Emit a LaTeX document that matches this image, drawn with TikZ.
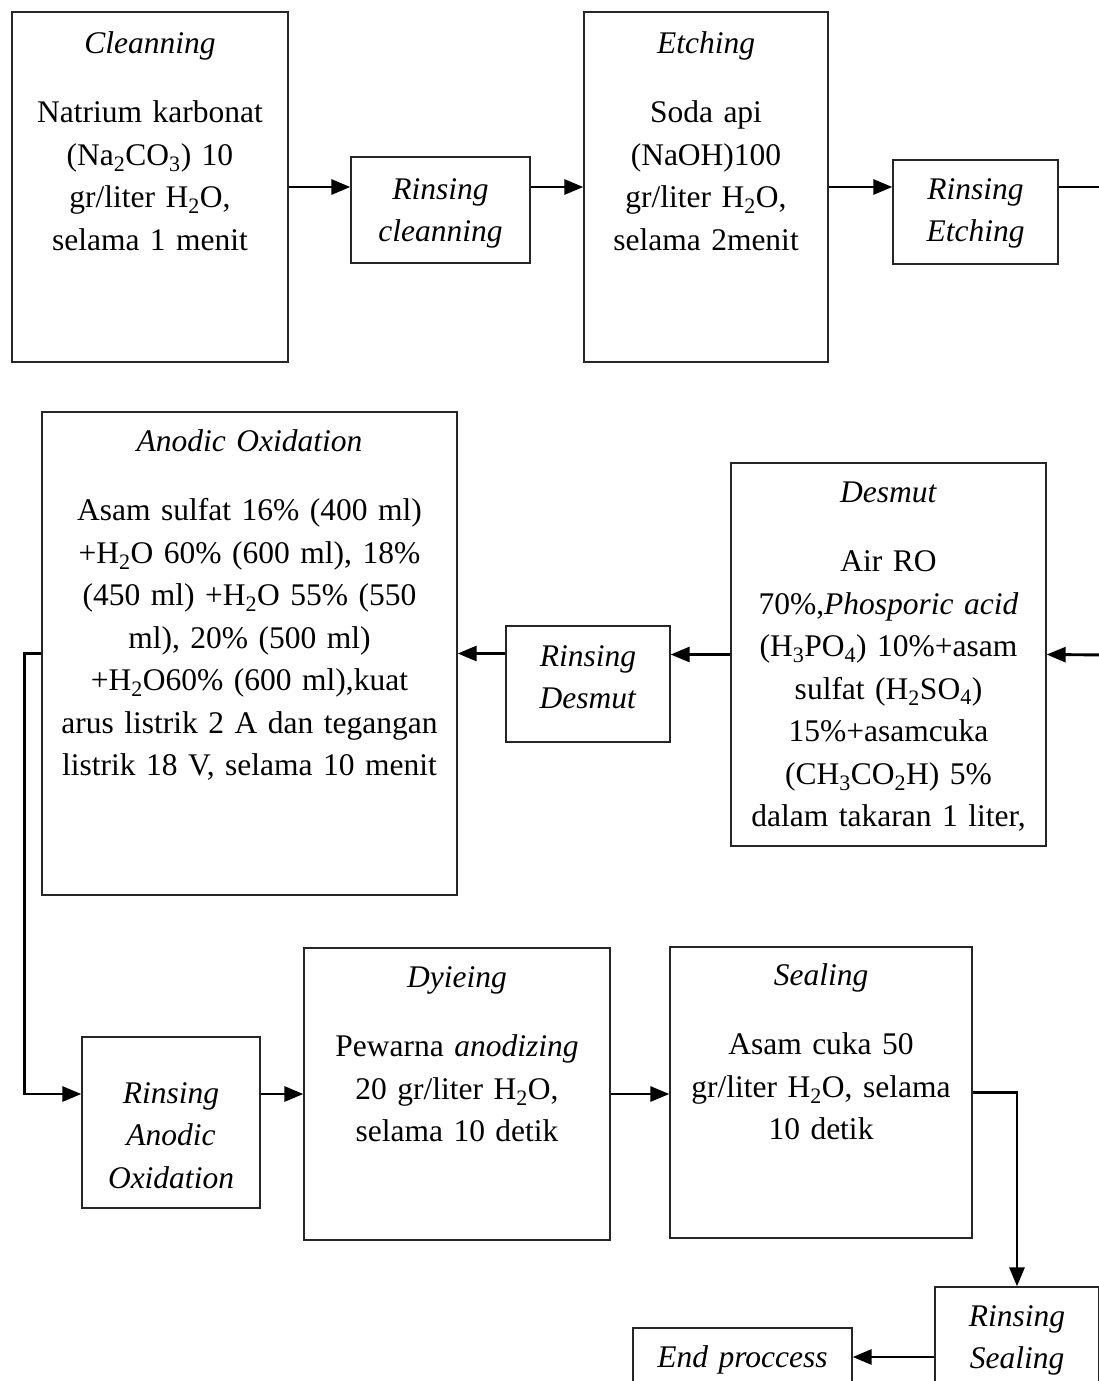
\documentclass[tikz,border=0pt]{standalone}
\usepackage{fontspec}
\setmainfont{Liberation Serif}
\usetikzlibrary{arrows.meta}

\tikzset{
  stage/.style={draw=black!85, line width=1.3pt, inner sep=0pt},
  boxtext/.style={anchor=base, align=center, inner sep=0pt,
    font=\fontsize{31.5}{42.5}\selectfont},
  flow/.style={line width=2.9pt, -{Triangle[length=19pt,width=15pt]}},
  plainflow/.style={line width=2.9pt}
}

\begin{document}
\begin{tikzpicture}[x=1pt,y=-1pt]
    \useasboundingbox (0,0) rectangle (1099,1381);
    \clip (0,0) rectangle (1099,1381);

    % Row 1: cleanning and etching
    \node[stage, minimum width=276, minimum height=350] (clean) at (150,187) {};
    \node[boxtext, text width=270] (cleantxt) at (150,53)
        {\textit{Cleanning}\\[27pt]
         Natrium karbonat\\
         (Na\textsubscript{2}CO\textsubscript{3}) 10\\
         gr/liter H\textsubscript{2}O,\\
         selama 1 menit};

    \node[stage, minimum width=179, minimum height=106] (rclean) at (440.5,210) {};
    \node[boxtext, text width=175] (rcleantxt) at (440.5,199)
        {\textit{Rinsing}\\ \textit{cleanning}};

    \node[stage, minimum width=244, minimum height=350] (etch) at (706,187) {};
    \node[boxtext, text width=240] (etchtxt) at (706,53)
        {\textit{Etching}\\[27pt]
         Soda api\\
         (NaOH)100\\
         gr/liter H\textsubscript{2}O,\\
         selama 2menit};

    \node[stage, minimum width=165, minimum height=104] (retch) at (975.5,212) {};
    \node[boxtext, text width=160] (retchtxt) at (975.5,199)
        {\textit{Rinsing}\\ \textit{Etching}};

    \coordinate (out1) at (1110,187);

    % Row 2: desmut and anodic oxidation
    \node[stage, minimum width=415, minimum height=483] (anodic) at (249.5,653.5) {};
    \node[boxtext, text width=410] (anodictxt) at (249.5,451)
        {\textit{Anodic Oxidation}\\[27pt]
         Asam sulfat 16\% (400 ml)\\
         +H\textsubscript{2}O 60\% (600 ml), 18\%\\
         (450 ml) +H\textsubscript{2}O 55\% (550\\
         ml), 20\% (500 ml)\\
         +H\textsubscript{2}O60\% (600 ml),kuat\\
         arus listrik 2 A dan tegangan\\
         listrik 18 V, selama 10 menit};

    \node[stage, minimum width=164, minimum height=116] (rdesmut) at (588,684) {};
    \node[boxtext, text width=160] (rdesmuttxt) at (588,666)
        {\textit{Rinsing}\\ \textit{Desmut}};

    \node[stage, minimum width=315, minimum height=383] (desmut) at (888.5,654.5) {};
    \node[boxtext, text width=310] (desmuttxt) at (888.5,502)
        {\textit{Desmut}\\[27pt]
         Air RO\\
         70\%,\textit{Phosporic acid}\\
         (H\textsubscript{3}PO\textsubscript{4}) 10\%+asam\\
         sulfat (H\textsubscript{2}SO\textsubscript{4})\\
         15\%+asamcuka\\
         (CH\textsubscript{3}CO\textsubscript{2}H) 5\%\\
         dalam takaran 1 liter,};

    \coordinate (in2) at (1110,655);

    % Row 3: rinsing, dyieing, sealing
    \node[stage, minimum width=178, minimum height=171] (ranodic) at (171,1122.5) {};
    \node[boxtext, text width=174] (ranodictxt) at (171,1103)
        {\textit{Rinsing}\\ \textit{Anodic}\\ \textit{Oxidation}};

    \node[stage, minimum width=306, minimum height=292] (dyeing) at (457,1094) {};
    \node[boxtext, text width=300] (dyeingtxt) at (457,987)
        {\textit{Dyieing}\\[27pt]
         Pewarna \textit{anodizing}\\
         20 gr/liter H\textsubscript{2}O,\\
         selama 10 detik};

    \node[stage, minimum width=302, minimum height=291] (sealing) at (821,1092.5) {};
    \node[boxtext, text width=298] (sealingtxt) at (821,985)
        {\textit{Sealing}\\[27pt]
         Asam cuka 50\\
         gr/liter H\textsubscript{2}O, selama\\
         10 detik};

    % Row 4: end
    \node[stage, minimum width=164, minimum height=110] (rsealing) at (1017,1342) {};
    \node[boxtext, text width=160] (rsealingtxt) at (1017,1326)
        {\textit{Rinsing}\\ \textit{Sealing}};

    \node[stage, minimum width=219, minimum height=58] (endp) at (742.5,1357) {};
    \node[boxtext, text width=215] (endptxt) at (742.5,1367) {\textit{End proccess}};

    % Connectors
    \draw[flow] (clean.east) -- (clean.east -| rclean.west);
    \draw[flow] (rclean.east |- etch.west) -- (etch.west);
    \draw[flow] (etch.east) -- (etch.east -| retch.west);
    \draw[plainflow] (retch.east |- etch.east) -- (out1);

    \draw[flow] (in2) -- (desmut.east);
    \draw[flow] (desmut.west) -- (desmut.west -| rdesmut.east);
    \draw[flow] (rdesmut.west |- anodic.east) -- (anodic.east);

    \draw[flow] (anodic.west) -- ++(-17,0) |- (ranodic.west |- dyeing.west);
    \draw[flow] (ranodic.east |- dyeing.west) -- (dyeing.west);
    \draw[flow] (dyeing.east) -- (dyeing.east -| sealing.west);
    \draw[flow] (sealing.east) -| (rsealing.north);
    \draw[flow] (rsealing.west |- endp.east) -- (endp.east);
\end{tikzpicture}
\end{document}
